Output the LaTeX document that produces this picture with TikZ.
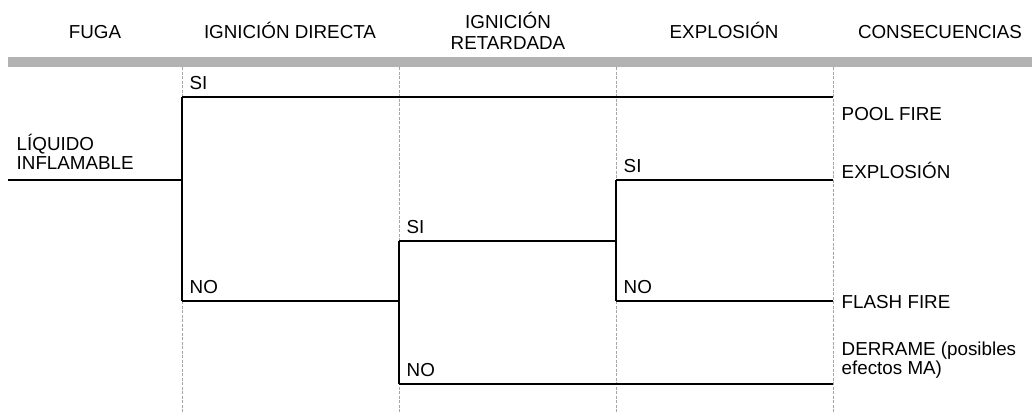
\documentclass[tikz,border=0pt]{standalone}
\usepackage{fontspec}
\setmainfont{Liberation Sans}
\begin{document}
\begin{tikzpicture}[
                                x = 0.5pt,
                                y = -0.5pt,
                                line width = 0.7pt
                                ]

                                \tikzstyle{header}=[
                                        font = \fontsize{9.4}{10.5}\selectfont,
                                        align = center,
                                        anchor = base,
                                        inner sep = 0pt
                                ]
                                \tikzstyle{branch}=[
                                        font = \fontsize{9.4}{10}\selectfont,
                                        anchor = base west,
                                        inner sep = 0pt,
                                        xshift = 3.5pt,
                                        yshift = 4pt
                                ]
                                \tikzstyle{result}=[
                                        font = \fontsize{9.4}{9.5}\selectfont,
                                        align = left,
                                        anchor = base west,
                                        inner sep = 0pt
                                ]
                                \tikzstyle{guide}=[
                                        draw = black!35,
                                        line width = 0.5pt,
                                        dash pattern = on 1.5pt off 0.75pt
                                ]

                                \useasboundingbox (0,0) rectangle (1032,412);

                                % column headers (multi-line ones sit on their last line)
                                \node[header] (fuga) at (95,39) {FUGA};
                                \node[header] (direct) at (290,39) {IGNICIÓN DIRECTA};
                                \node[header] (delay) at (508,49) {IGNICIÓN\\RETARDADA};
                                \node[header] (expl) at (724,39) {EXPLOSIÓN};
                                \node[header] (cons) at (940,39) {CONSECUENCIAS};
                                \fill[black!30] (8,57) rectangle (1032,67);

                                \foreach \x in {182,399,616,833}
                                        \draw[guide] (\x,67) -- (\x,412);

                                % branch points
                                \coordinate (start) at (8,180);
                                \coordinate (d) at (182,180);
                                \coordinate (dsi) at (182,97);
                                \coordinate (dno) at (182,301);
                                \coordinate (r) at (399,301);
                                \coordinate (rsi) at (399,241);
                                \coordinate (rno) at (399,384);
                                \coordinate (e) at (616,241);
                                \coordinate (esi) at (616,180);
                                \coordinate (eno) at (616,301);
                                \coordinate (pool) at (833,97);
                                \coordinate (boom) at (833,180);
                                \coordinate (flash) at (833,301);
                                \coordinate (spill) at (833,384);

                                \node[result] (liq) at (16,169) {LÍQUIDO\\INFLAMABLE};
                                \draw (start) -- (d);
                                \draw (dsi) -- (dno);
                                \draw (dsi) -- (pool) node [pos=0, branch] {SI};
                                \draw (dno) -- (r) node [pos=0, branch] {NO};
                                \draw (rsi) -- (rno);
                                \draw (rsi) -- (e) node [pos=0, branch] {SI};
                                \draw (rno) -- (spill) node [pos=0, branch] {NO};
                                \draw (esi) -- (eno);
                                \draw (esi) -- (boom) node [pos=0, branch] {SI};
                                \draw (eno) -- (flash) node [pos=0, branch] {NO};

                                % consequences
                                \node[result] (c1) at (841,120) {POOL FIRE};
                                \node[result] (c2) at (841,178) {EXPLOSIÓN};
                                \node[result] (c3) at (841,308) {FLASH FIRE};
                                \node[result] (c4) at (841,374) {DERRAME (posibles\\efectos MA)};
                       \end{tikzpicture}
\end{document}
